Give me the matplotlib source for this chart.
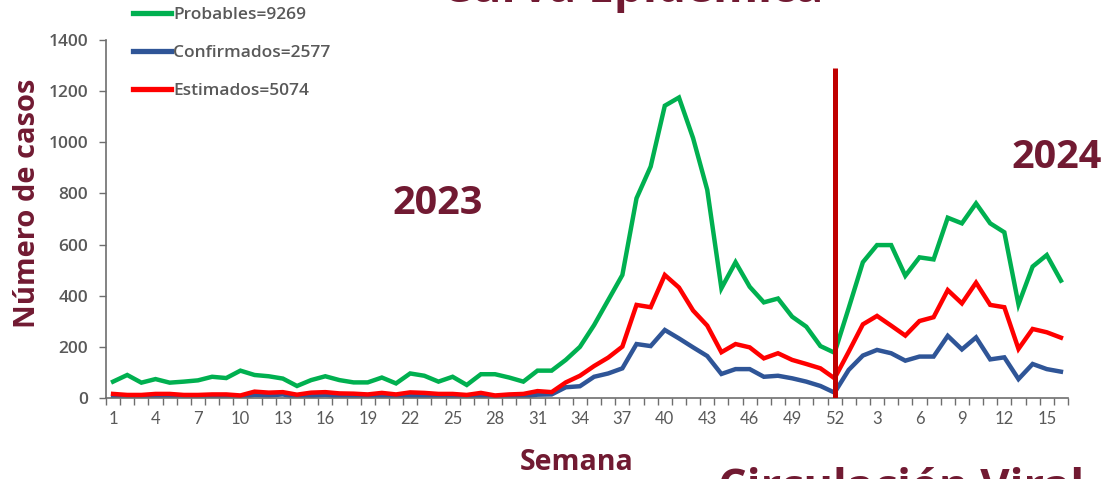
import matplotlib
matplotlib.use("Agg")
import matplotlib.pyplot as plt
import numpy as np

# semanas: 2023 (1-52) y 2024 (1-16)
weeks = list(range(1, 53)) + list(range(1, 17))

probables = [64, 90, 60, 74, 60, 64, 69, 83, 78, 107, 90, 85, 76, 47, 70, 85, 70, 61, 61, 80,
             57, 96, 87, 64, 83, 51, 93, 93, 80, 64, 107, 107, 149, 200, 285, 383, 481, 781, 905, 1143,
             1175, 1016, 814, 429, 531, 435, 374, 389, 318, 279, 203, 177,
             352, 531, 598, 598, 478, 550, 542, 705, 683, 761, 683, 648, 366, 514, 559, 459]

confirmados = [5, 3, 4, 6, 6, 4, 4, 6, 5, 3, 12, 10, 14, 3, 8, 12, 6, 5, 4, 8,
               3, 8, 6, 4, 4, 2, 7, 3, 4, 5, 13, 14, 42, 46, 83, 96, 116, 211, 203, 266,
               233, 198, 164, 94, 113, 113, 83, 87, 77, 64, 47, 21,
               110, 166, 188, 175, 146, 162, 162, 243, 190, 237, 151, 159, 74, 133, 113, 103]

estimados = [16, 12, 12, 16, 16, 12, 12, 14, 14, 10, 25, 21, 23, 13, 21, 23, 18, 17, 14, 20,
             14, 22, 20, 16, 16, 12, 20, 10, 14, 16, 27, 23, 61, 87, 125, 158, 201, 364, 355, 481,
             432, 342, 283, 179, 211, 198, 155, 175, 149, 133, 116, 77,
             181, 288, 321, 283, 244, 301, 316, 422, 370, 451, 364, 355, 192, 270, 257, 236]

labels = ["Probables=9269", "Confirmados=2577", "Estimados=5074"]
colors = ["#00B050", "#2F5597", "#FF0000"]

maroon = "#711A32"
gray = "#595959"

x = np.arange(len(weeks))

fig = plt.figure(figsize=(11.1, 4.79), dpi=100)
ax = fig.add_axes([106 / 1110, 1 - 398 / 479, (1068 - 106) / 1110, (398 - 40) / 479])

lines = []
for series, col, lab, z in zip([probables, confirmados, estimados], colors, labels, [3, 2, 3]):
    ln, = ax.plot(x, series, color=col, lw=3.2, label=lab, zorder=z, solid_joinstyle="miter")
    lines.append(ln)

# separador 2023 / 2024 en la semana 52
ax.vlines(51, 0, 1290, color="#C00000", lw=3.6, zorder=5)

ax.set_xlim(-0.5, len(weeks) - 0.5)
ax.set_ylim(0, 1400)

ax.set_yticks(range(0, 1401, 200))
ax.set_xticks(x[::3])
ax.set_xticklabels([str(w) for w in weeks[::3]])
ax.set_xticks(np.arange(-0.5, len(weeks), 1), minor=True)

for s in ["top", "right"]:
    ax.spines[s].set_visible(False)
for s in ["left", "bottom"]:
    ax.spines[s].set_color("#6E6E6E")
    ax.spines[s].set_linewidth(1.2)

ax.tick_params(axis="x", which="major", length=0, pad=9, labelsize=12, labelcolor=gray)
ax.tick_params(axis="x", which="minor", length=5, width=1, color="#6E6E6E")
ax.tick_params(axis="y", length=5, width=1, color="#6E6E6E", pad=8, labelsize=12.5, labelcolor=gray)
for t in ax.get_xticklabels():
    t.set_family("Lato")
for t in ax.get_yticklabels():
    t.set_family("Open Sans")
    t.set_fontweight("semibold")

fig.text(28 / 1110, 1 - 203 / 479, "Número de casos", rotation=90, ha="center", va="center",
         fontsize=21, fontweight="bold", color=maroon, family="Open Sans")
fig.text(577 / 1110, 1 - 463 / 479, "Semana", ha="center", va="center",
         fontsize=20.5, fontweight="bold", color=maroon, family="Open Sans")

fig.text(438 / 1110, 1 - 203 / 479, "2023", ha="center", va="center",
         fontsize=28.5, fontweight="bold", color=maroon, family="Open Sans")
fig.text(1057 / 1110, 1 - 158 / 479, "2024", ha="center", va="center",
         fontsize=28.5, fontweight="bold", color=maroon, family="Open Sans")

# titulo y subtitulo recortados por el borde, como en la lamina original
fig.text(633 / 1110, 1 - 2 / 479, "Curva Epidémica", ha="center", va="baseline",
         fontsize=33, fontweight="bold", color=maroon, family="Open Sans")
fig.text(901 / 1110, 1 - 501 / 479, "Circulación Viral", ha="center", va="baseline",
         fontsize=32.5, fontweight="bold", color=maroon, family="Open Sans")

leg = fig.legend(handles=lines, loc="upper left", bbox_to_anchor=(133 / 1110, 1 - 7 / 479),
                 frameon=False, handlelength=2.2, handletextpad=0.12, labelspacing=1.25,
                 borderpad=0, borderaxespad=0,
                 prop={"family": "Open Sans", "size": 12.5, "weight": "semibold"})
for t in leg.get_texts():
    t.set_color(gray)
for h in leg.legend_handles:
    h.set_linewidth(3.8)

fig.savefig("out.png", dpi=100)
